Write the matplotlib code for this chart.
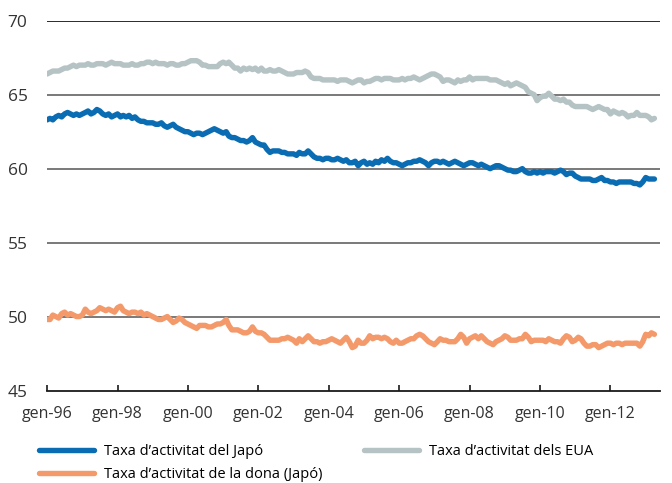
import numpy as np
import pandas as pd
import matplotlib
matplotlib.use("Agg")
import matplotlib.pyplot as plt

plt.rcParams['font.family'] = ['Open Sans', 'DejaVu Sans']

# taxes d'activitat mensuals, gen-96 a abr-13
japo = [
    63.3, 63.4, 63.3, 63.5, 63.6, 63.5, 63.7, 63.8, 63.7, 63.6, 63.7, 63.6,
    63.7, 63.8, 63.9, 63.7, 63.8, 64.0, 63.9, 63.7, 63.6, 63.7, 63.5, 63.6,
    63.7, 63.5, 63.6, 63.5, 63.6, 63.4, 63.5, 63.3, 63.2, 63.2, 63.1, 63.1,
    63.1, 63.0, 63.0, 63.1, 62.9, 62.8, 62.9, 63.0, 62.8, 62.7, 62.6, 62.5,
    62.5, 62.4, 62.3, 62.4, 62.4, 62.3, 62.4, 62.5, 62.6, 62.7, 62.6, 62.5,
    62.4, 62.5, 62.2, 62.1, 62.1, 62.0, 61.9, 61.9, 61.8, 61.9, 62.1, 61.8,
    61.7, 61.6, 61.6, 61.3, 61.1, 61.2, 61.2, 61.2, 61.1, 61.1, 61.0, 61.0,
    61.0, 60.9, 61.1, 61.0, 61.0, 61.2, 61.0, 60.8, 60.7, 60.7, 60.6, 60.7,
    60.7, 60.6, 60.6, 60.7, 60.6, 60.5, 60.6, 60.4, 60.4, 60.5, 60.2, 60.4,
    60.5, 60.3, 60.4, 60.3, 60.5, 60.4, 60.6, 60.5, 60.7, 60.5, 60.4, 60.4,
    60.3, 60.2, 60.3, 60.4, 60.4, 60.5, 60.5, 60.6, 60.5, 60.4, 60.2, 60.4,
    60.5, 60.5, 60.4, 60.5, 60.4, 60.3, 60.4, 60.5, 60.4, 60.3, 60.2, 60.3,
    60.4, 60.4, 60.3, 60.2, 60.3, 60.2, 60.1, 60.0, 60.1, 60.2, 60.2, 60.1,
    60.0, 59.9, 59.9, 59.8, 59.8, 59.9, 60.0, 59.8, 59.7, 59.7, 59.8, 59.7,
    59.8, 59.7, 59.8, 59.8, 59.8, 59.7, 59.8, 59.9, 59.8, 59.6, 59.7, 59.7,
    59.5, 59.4, 59.3, 59.3, 59.3, 59.3, 59.2, 59.2, 59.3, 59.4, 59.2, 59.2,
    59.1, 59.1, 59.0, 59.1, 59.1, 59.1, 59.1, 59.1, 59.0, 59.0, 58.9, 59.1,
    59.4, 59.3, 59.3, 59.3,
]

eua = [
    66.4, 66.5, 66.6, 66.6, 66.6, 66.7, 66.8, 66.8, 66.9, 67.0, 66.9, 67.0,
    67.0, 67.0, 67.1, 67.0, 67.0, 67.1, 67.1, 67.1, 67.0, 67.1, 67.2, 67.1,
    67.1, 67.1, 67.0, 67.0, 67.0, 67.1, 67.0, 67.0, 67.1, 67.1, 67.2, 67.2,
    67.1, 67.2, 67.1, 67.1, 67.1, 67.0, 67.1, 67.1, 67.0, 67.0, 67.1, 67.1,
    67.2, 67.3, 67.3, 67.3, 67.2, 67.0, 67.0, 66.9, 66.9, 66.9, 66.9, 67.1,
    67.2, 67.1, 67.2, 67.0, 66.8, 66.8, 66.6, 66.8, 66.7, 66.8, 66.7, 66.8,
    66.6, 66.8, 66.6, 66.6, 66.7, 66.6, 66.6, 66.7, 66.6, 66.5, 66.4, 66.4,
    66.4, 66.5, 66.5, 66.5, 66.6, 66.5, 66.2, 66.1, 66.1, 66.1, 66.0, 66.0,
    66.0, 66.0, 66.0, 65.9, 66.0, 66.0, 66.0, 65.9, 65.8, 65.9, 66.0, 66.0,
    65.8, 65.9, 65.9, 66.0, 66.1, 66.1, 66.0, 66.1, 66.1, 66.1, 66.0, 66.0,
    66.0, 66.1, 66.0, 66.1, 66.1, 66.2, 66.1, 66.0, 66.1, 66.2, 66.3, 66.4,
    66.4, 66.3, 66.2, 65.9, 66.0, 66.0, 65.9, 65.8, 66.0, 65.9, 66.0, 66.0,
    66.2, 66.0, 66.1, 66.1, 66.1, 66.1, 66.1, 66.0, 66.0, 66.0, 65.9, 65.8,
    65.7, 65.8, 65.6, 65.7, 65.8, 65.7, 65.6, 65.5, 65.2, 65.1, 65.0, 64.6,
    64.8, 64.9, 64.9, 65.1, 64.9, 64.7, 64.7, 64.6, 64.7, 64.5, 64.5, 64.3,
    64.2, 64.2, 64.2, 64.2, 64.2, 64.1, 64.0, 64.1, 64.2, 64.1, 64.0, 64.0,
    63.7, 63.9, 63.8, 63.7, 63.8, 63.7, 63.5, 63.6, 63.6, 63.8, 63.6, 63.6,
    63.6, 63.5, 63.3, 63.4,
]

dona = [
    49.8, 49.8, 50.1, 50.0, 49.9, 50.2, 50.3, 50.1, 50.2, 50.1, 50.0, 50.0,
    50.1, 50.5, 50.3, 50.2, 50.3, 50.4, 50.6, 50.5, 50.4, 50.5, 50.4, 50.3,
    50.6, 50.7, 50.4, 50.3, 50.2, 50.3, 50.3, 50.2, 50.3, 50.1, 50.2, 50.1,
    50.0, 49.9, 49.8, 49.8, 49.9, 50.0, 49.8, 49.6, 49.7, 49.9, 49.8, 49.6,
    49.5, 49.4, 49.3, 49.2, 49.4, 49.4, 49.4, 49.3, 49.3, 49.4, 49.5, 49.5,
    49.6, 49.8, 49.4, 49.1, 49.1, 49.1, 49.0, 48.9, 48.9, 49.0, 49.3, 49.0,
    48.9, 48.9, 48.8, 48.6, 48.4, 48.4, 48.4, 48.4, 48.5, 48.5, 48.6, 48.5,
    48.4, 48.2, 48.5, 48.3, 48.5, 48.7, 48.5, 48.3, 48.3, 48.2, 48.3, 48.3,
    48.4, 48.5, 48.4, 48.3, 48.2, 48.4, 48.6, 48.3, 47.9, 48.0, 48.4, 48.2,
    48.2, 48.4, 48.7, 48.5, 48.6, 48.6, 48.5, 48.6, 48.5, 48.3, 48.2, 48.4,
    48.2, 48.2, 48.3, 48.4, 48.5, 48.5, 48.7, 48.8, 48.7, 48.5, 48.3, 48.2,
    48.1, 48.3, 48.5, 48.4, 48.4, 48.3, 48.3, 48.3, 48.5, 48.8, 48.6, 48.2,
    48.5, 48.6, 48.7, 48.5, 48.7, 48.5, 48.3, 48.2, 48.1, 48.3, 48.4, 48.5,
    48.7, 48.6, 48.4, 48.4, 48.4, 48.5, 48.5, 48.8, 48.6, 48.3, 48.4, 48.4,
    48.4, 48.4, 48.3, 48.5, 48.4, 48.3, 48.3, 48.2, 48.5, 48.7, 48.6, 48.3,
    48.4, 48.6, 48.5, 48.2, 48.0, 48.0, 48.1, 48.1, 47.9, 48.0, 48.1, 48.2,
    48.2, 48.1, 48.2, 48.2, 48.1, 48.2, 48.2, 48.2, 48.2, 48.2, 48.0, 48.3,
    48.8, 48.7, 48.9, 48.8,
]

etiquetes = ["Taxa d\u2019activitat del Jap\u00f3",
             "Taxa d\u2019activitat dels EUA",
             "Taxa d\u2019activitat de la dona (Jap\u00f3)"]
anys_eix = list(range(1996, 2013, 2))

dates = pd.date_range("1996-01-01", periods=len(japo), freq="MS")

fig = plt.figure(figsize=(6.72, 4.83), dpi=100)
ax = fig.add_axes([0.070, 0.1915, 0.912, 0.7655])

l_jp, = ax.plot(dates, japo, color="#0a6db3", lw=3.9, solid_capstyle="round")
l_us, = ax.plot(dates, eua, color="#b6c3c5", lw=3.9, solid_capstyle="round")
l_dn, = ax.plot(dates, dona, color="#f4996a", lw=3.9, solid_capstyle="round")

ax.set_ylim(45, 70)
ax.set_xlim(pd.Timestamp("1996-01-01"), pd.Timestamp("2013-05-28"))
ax.set_yticks([45, 50, 55, 60, 65, 70])
for v in [50, 55, 60, 65]:
    ax.axhline(v, color="#6e6e6e", lw=1.3, zorder=0)
ax.axhline(70, color="#1a1a1a", lw=1.3, zorder=0)

tick_dates = [pd.Timestamp(f"{a}-01-01") for a in anys_eix]
ax.set_xticks(tick_dates)
ax.set_xticklabels([f"gen-{a % 100:02d}" for a in anys_eix])

for s in ["top", "right", "left"]:
    ax.spines[s].set_visible(False)
ax.spines["bottom"].set_color("#1a1a1a")
ax.spines["bottom"].set_linewidth(1.3)
ax.tick_params(axis="x", direction="in", length=4, width=1.2, color="#1a1a1a",
               pad=11, labelsize=11.5, labelcolor="#333333")
ax.tick_params(axis="y", length=0, pad=14, labelsize=12.5, labelcolor="#333333")

fig.legend([l_jp, l_dn, l_us], [etiquetes[0], etiquetes[2], etiquetes[1]],
           ncol=2, loc="upper left", bbox_to_anchor=(0.049, 0.092),
           frameon=False, fontsize=10.5, handlelength=3.8, handletextpad=0.7,
           columnspacing=2.8, labelspacing=0.5, borderaxespad=0)

fig.savefig("out.png", dpi=100)
